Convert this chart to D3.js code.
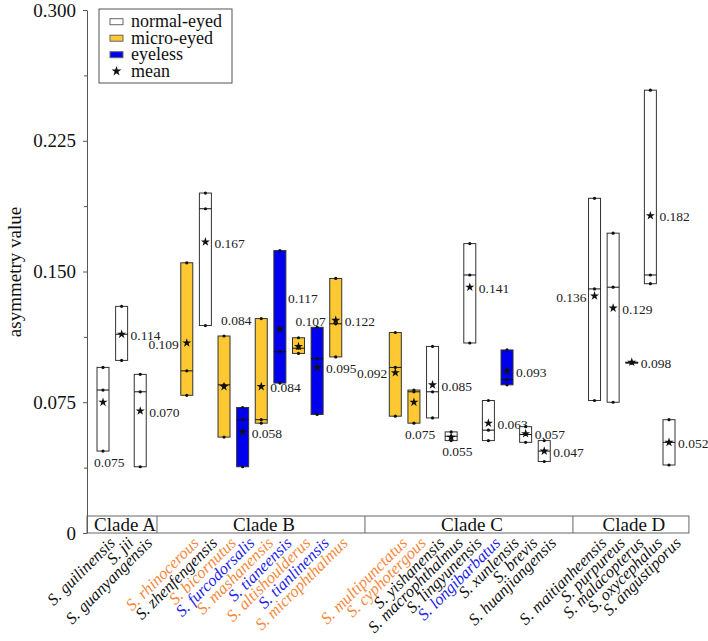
<!DOCTYPE html>
<html><head><meta charset="utf-8">
<script src="https://cdn.jsdelivr.net/npm/d3@7"></script>
<style>
body{margin:0;background:#fff;}
svg{display:block;}
svg text{font-family:"Liberation Serif","Times New Roman",serif;}
</style>
</head><body>
<svg id="c" width="708" height="641"></svg>
<script>
// ---------------- data ----------------
const species = ["S. guilinensis","S. jii","S. guanyangensis",
  "S. rhinocerous","S. zhenfengensis","S. bicornutus","S. furcodorsalis","S. mashanensis","S. tianeensis","S. altishoulderus","S. tianlinensis","S. microphthalmus",
  "S. multipunctatus","S. cyphotergous","S. yishanensis","S. macrophthalmus","S. lingyunensis","S. longibarbatus","S. xunlensis","S. brevis","S. huanjiangensis",
  "S. maitianheensis","S. purpureus","S. malacopterus","S. oxycephalus","S. angustiporus"];
const cladeNames = ["Clade A","Clade B","Clade C","Clade D"];
const cladeSizes = [3,9,9,5];
const boxType = ["normal","normal","normal",
  "micro","normal","micro","eyeless","micro","eyeless","micro","eyeless","micro",
  "micro","micro","normal","normal","normal","normal","eyeless","normal","normal",
  "normal","normal","normal","normal","normal"];
const labelType = ["normal","normal","normal",
  "micro","normal","micro","eyeless","micro","eyeless","micro","eyeless","micro",
  "micro","micro","normal","normal","normal","eyeless","normal","normal","normal",
  "normal","normal","normal","normal","normal"];
const minVals    = [0.047,0.099,0.038, 0.079,0.119,0.055,0.038,0.063,0.086,0.103,0.068,0.101, 0.067,0.063,0.066,0.053,0.109,0.053,0.085,0.052,0.041, 0.076,0.075,0.0974,0.143,0.039];
const medianVals = [0.082,0.114,0.081, 0.093,0.186,0.085,0.065,0.065,0.104,0.106,0.100,0.120, 0.095,0.081,0.081,0.0555,0.148,0.059,0.088,0.0565,0.047, 0.140,0.141,0.0977,0.148,0.052];
const maxVals    = [0.095,0.130,0.091, 0.155,0.195,0.113,0.072,0.123,0.162,0.112,0.118,0.146, 0.115,0.082,0.107,0.058,0.166,0.076,0.105,0.061,0.053, 0.192,0.172,0.098,0.254,0.065];
const meanVals   = [0.075,0.114,0.070, 0.109,0.167,0.084,0.058,0.084,0.117,0.107,0.095,0.122, 0.092,0.075,0.085,0.055,0.141,0.063,0.093,0.057,0.047, 0.136,0.129,0.098,0.182,0.052];
const yTickValues = [0,0.075,0.15,0.225,0.3];
const yTickLabels = ["0","0.075","0.150","0.225","0.300"];
const yMinorTicks = [0.0375,0.1125,0.1875,0.2625];
const legendLabels = ["normal-eyed","micro-eyed","eyeless","mean"];
const legendTypes = ["normal","micro","eyeless","mean"];
const yTitle = "asymmetry value";

// ---------------- layout ----------------
const labelSide = ["b","r","r", "l","r","t","r","r","ru","t","r","r", "l","b","r","b","r","r","r","r","r", "l","r","r","r","r"];
const slotShift = [0,1.5,3.7,5.4];
const stripEdges = [-0.86,2.9,14.07,25.24,31.47];

const svg = d3.select("#c");
const fontFam = '"Liberation Serif","Times New Roman",serif';
const fill = {normal:"#ffffff", micro:"#FDC832", eyeless:"#0000EE"};
const txtCol = {normal:"#111111", micro:"#F5883A", eyeless:"#1E1EE8"};
const cladeIdx = [];
cladeSizes.forEach((n,k)=>{for(let j=0;j<n;j++) cladeIdx.push(k);});
const slot = species.map((s,i)=>i+slotShift[cladeIdx[i]]);
const x = d3.scaleLinear().domain([0,30.4]).range([103,669]);
const y = d3.scaleLinear().domain([0,0.3]).range([533,10]);
const bw = 12;

// y axis
const gy = svg.append("g").attr("transform","translate(87,0)")
  .call(d3.axisLeft(y).tickValues(yTickValues).tickFormat((d,i)=>yTickLabels[i]).tickSize(4).tickSizeOuter(0).tickPadding(7));
gy.attr("font-family",null);
gy.selectAll("text").attr("font-size",19).attr("fill","#111");
gy.select(".domain").attr("stroke","#555");
gy.selectAll(".tick line").attr("stroke","#555");
const gm = svg.append("g").attr("transform","translate(87,0)")
  .call(d3.axisLeft(y).tickValues(yMinorTicks).tickFormat("").tickSize(3).tickSizeOuter(0));
gm.select(".domain").remove();
gm.selectAll(".tick line").attr("stroke","#555");

svg.append("text").attr("transform","translate(21,272) rotate(-90)")
  .attr("text-anchor","middle").attr("font-size",19).attr("fill","#111").text(yTitle);

// clade strip
const stripTop = 516, stripBot = y(0);
svg.append("rect").attr("x",x(stripEdges[0])).attr("y",stripTop)
  .attr("width",x(stripEdges[4])-x(stripEdges[0])).attr("height",stripBot-stripTop)
  .attr("fill","none").attr("stroke","#666");
cladeNames.forEach((c,k)=>{
  if(k>0) svg.append("line").attr("x1",x(stripEdges[k])).attr("x2",x(stripEdges[k]))
    .attr("y1",stripTop).attr("y2",stripBot).attr("stroke","#666");
  svg.append("text").attr("x",(x(stripEdges[k])+x(stripEdges[k+1]))/2+3).attr("y",531)
    .attr("text-anchor","middle").attr("font-size",19).attr("fill","#111").text(c);
});

// boxes
const idx = d3.range(species.length);
const g = svg.append("g");
idx.forEach(i=>{
  const cx = x(slot[i]);
  const top = y(maxVals[i]), bot = y(minVals[i]);
  g.append("rect").attr("x",cx-bw/2).attr("y",top).attr("width",bw).attr("height",Math.max(bot-top,0.8))
    .attr("fill",fill[boxType[i]]).attr("stroke","#333").attr("stroke-width",1);
  g.append("line").attr("x1",cx-bw/2).attr("x2",cx+bw/2).attr("y1",y(medianVals[i])).attr("y2",y(medianVals[i]))
    .attr("stroke","#111").attr("stroke-width",1);
  [minVals[i],medianVals[i],maxVals[i]].forEach(v=>{
    g.append("circle").attr("cx",cx).attr("cy",y(v)).attr("r",1.6).attr("fill","#111");
  });
  g.append("path").attr("d",d3.symbol(d3.symbolStar,26)())
    .attr("transform",`translate(${cx},${y(meanVals[i])})`).attr("fill","#111");
  const s = labelSide[i];
  let lx, ly, anchor="start";
  const sy = y(meanVals[i]);
  if(s==="r"){ lx=cx+bw/2+3; ly=sy+1; }
  else if(s==="l"){ lx=cx-bw/2-2; ly=sy+1; anchor="end"; }
  else if(s==="b"){ lx=cx-9; ly=bot+11; }
  else if(s==="t"){ lx=cx-3; ly=top-16; }
  else if(s==="ru"){ lx=cx+bw/2+2; ly=sy-31; }
  g.append("text").attr("x",lx).attr("y",ly).attr("dy","0.35em").attr("text-anchor",anchor)
    .attr("font-size",13.5).attr("fill","#222").text(d3.format(".3f")(meanVals[i]));
});

// species labels
idx.forEach(i=>{
  svg.append("text").attr("transform",`translate(${x(slot[i])+13},544) rotate(-45)`)
    .attr("text-anchor","end").attr("font-style","italic").attr("font-size",16.5)
    .attr("fill",txtCol[labelType[i]]).text(species[i]);
});

// legend
const lg = svg.append("g");
lg.append("rect").attr("x",99).attr("y",9).attr("width",133).attr("height",74)
  .attr("fill","#fff").attr("stroke","#555");
legendLabels.forEach((t,k)=>{
  const ry = 21.7 + k*16.5;
  if(legendTypes[k]==="mean"){
    lg.append("path").attr("d",d3.symbol(d3.symbolStar,30)()).attr("transform",`translate(116.5,${ry})`).attr("fill","#111");
  } else {
    lg.append("rect").attr("x",110).attr("y",ry-3).attr("width",13).attr("height",6)
      .attr("fill",fill[legendTypes[k]]).attr("stroke","#666");
  }
  lg.append("text").attr("x",131).attr("y",ry).attr("dy","0.3em").attr("font-size",18).attr("fill","#111").text(t);
});

svg.selectAll("text").style("font-family",fontFam);
</script>
</body></html>
